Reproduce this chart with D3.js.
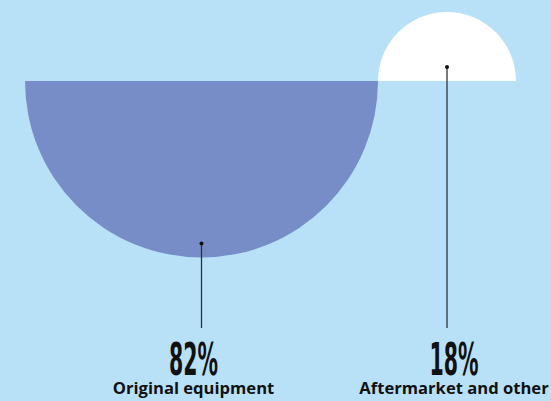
<!DOCTYPE html>
<html>
<head>
<meta charset="utf-8">
<script src="https://cdn.jsdelivr.net/npm/d3@7"></script>
<style>
  html, body { margin: 0; padding: 0; background: #b8e1f8; }
  svg { display: block; }
</style>
</head>
<body>
<div id="chart"></div>
<script>
// data
const categories = ["Original equipment", "Aftermarket and other"];
const shares = [82, 18];
const labels = ["82%", "18%"];

const width = 551, height = 401;
const baseY = 81;
const left = 25;

const svg = d3.select("#chart")
  .append("svg")
  .attr("width", width)
  .attr("height", height);

svg.append("rect")
  .attr("width", width).attr("height", height)
  .attr("fill", "#b8e1f8");

// radius scale (fitted to the reference sizes)
const r = d3.scaleLinear()
  .domain([18, 82])
  .range([69, 176.5]);

// centres: the half discs sit next to each other on one baseline
const items = categories.map((c, i) => ({ name: c, value: shares[i], label: labels[i], r: r(shares[i]) }));
let xPos = left;
items.forEach(d => { d.cx = xPos + d.r; xPos += 2 * d.r; });

const colors = ["#778dc7", "#ffffff"];
const down = [true, false];

const arc = d3.arc().innerRadius(0);

items.forEach((d, i) => {
  const g = svg.append("g").attr("transform", `translate(${d.cx},${baseY})`);
  g.append("path")
    .attr("d", arc({
      outerRadius: d.r,
      startAngle: down[i] ? Math.PI / 2 : -Math.PI / 2,
      endAngle: down[i] ? Math.PI * 1.5 : Math.PI / 2
    }))
    .attr("fill", colors[i]);

  // pointer
  const dotY = down[i] ? d.r - 14 : -14;
  g.append("line")
    .attr("x1", 0).attr("x2", 0)
    .attr("y1", dotY).attr("y2", 328 - baseY)
    .attr("stroke", "#333")
    .attr("stroke-width", 1.3);
  g.append("circle")
    .attr("cx", 0).attr("cy", dotY)
    .attr("r", 2)
    .attr("fill", "#111");

  const tx = d.cx + (i === 0 ? -8 : 7);

  svg.append("text")
    .attr("x", tx).attr("y", 375)
    .attr("text-anchor", "middle")
    .attr("font-family", "'Liberation Sans Narrow', 'DejaVu Sans Condensed', sans-serif")
    .attr("font-weight", "bold")
    .attr("font-size", 45)
    .attr("textLength", 49)
    .attr("lengthAdjust", "spacingAndGlyphs")
    .attr("fill", "#111")
    .text(d.label);

  svg.append("text")
    .attr("x", tx).attr("y", 394)
    .attr("text-anchor", "middle")
    .attr("font-family", "'Open Sans', sans-serif")
    .attr("font-weight", "bold")
    .attr("font-size", 16.6)
    .attr("fill", "#111")
    .text(d.name);
});
</script>
</body>
</html>
